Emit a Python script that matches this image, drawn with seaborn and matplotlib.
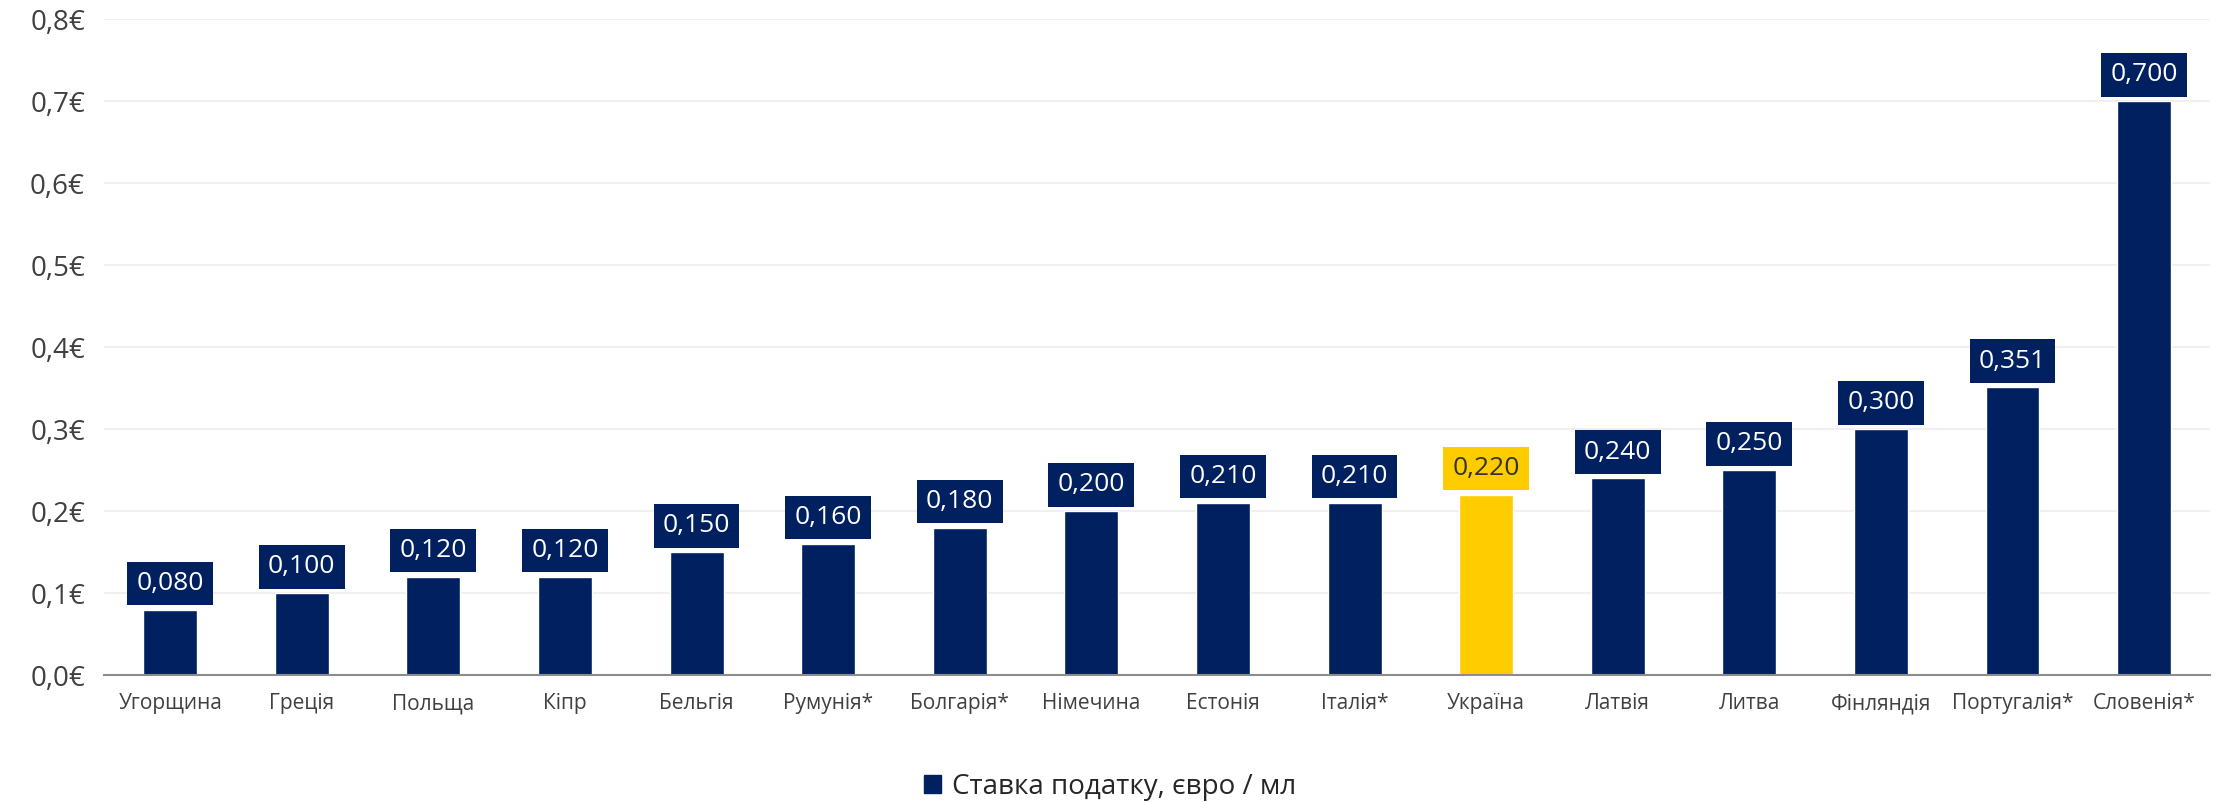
import numpy as np
import matplotlib.pyplot as plt
import pandas as pd
import seaborn as sns
from matplotlib.patches import Patch

# data
countries = ['Угорщина', 'Греція', 'Польща', 'Кіпр', 'Бельгія', 'Румунія*', 'Болгарія*',
             'Німечина', 'Естонія', 'Італія*', 'Україна', 'Латвія', 'Литва', 'Фінляндія',
             'Португалія*', 'Словенія*']
rates = [0.080, 0.100, 0.120, 0.120, 0.150, 0.160, 0.180, 0.200, 0.210, 0.210,
         0.220, 0.240, 0.250, 0.300, 0.351, 0.700]
y_ticks = [0.0, 0.1, 0.2, 0.3, 0.4, 0.5, 0.6, 0.7, 0.8]
legend_label = 'Ставка податку, євро / мл'
highlight = 'Україна'

navy = '#002060'
yellow = '#FFCC00'

sns.set_style('white')
plt.rcParams['font.family'] = ['Open Sans', 'DejaVu Sans']

df = pd.DataFrame({'country': countries, 'rate': rates})
palette = [yellow if c == highlight else navy for c in countries]

fig = plt.figure(figsize=(22.21, 8.02), dpi=100)
ax = fig.add_axes([0.047, 0.158, 0.948, 0.818])

sns.barplot(data=df, x='country', y='rate', hue='country', palette=palette,
            width=0.41, legend=False, saturation=1, ax=ax)

ax.set_ylim(0, 0.8)
ax.set_yticks(y_ticks)
ax.set_yticklabels([f'{v:.1f}€'.replace('.', ',') for v in y_ticks], fontsize=20, color='#404040')
ax.tick_params(axis='x', labelsize=15, colors='#404040', length=0, pad=13)
ax.tick_params(axis='y', length=0, pad=14)
ax.set_xlabel('')
ax.set_ylabel('')
ax.set_xlim(-0.5, len(countries) - 0.5)
ax.yaxis.grid(True, color='#eeeeee', linewidth=1.2)
ax.set_axisbelow(True)
for s in ['top', 'right', 'left']:
    ax.spines[s].set_visible(False)
ax.spines['bottom'].set_color('#8c8c8c')
ax.spines['bottom'].set_linewidth(1.5)

# value labels in boxes
for cont in ax.containers:
    labels = [f'{v:.3f}'.replace('.', ',') for v in cont.datavalues]
    texts = ax.bar_label(cont, labels=labels, padding=10, fontsize=19, color='white')
    for t, bar in zip(texts, cont):
        fc = bar.get_facecolor()
        is_yellow = np.allclose(fc[:3], plt.matplotlib.colors.to_rgb(yellow))
        t.set_color('#333333' if is_yellow else 'white')
        t.set_bbox(dict(boxstyle='square,pad=0.35', fc=yellow if is_yellow else navy, ec='none'))

fig.legend(handles=[Patch(color=navy, label=legend_label)], loc='lower center',
           bbox_to_anchor=(0.5, -0.012), borderaxespad=0, frameon=False, fontsize=20,
           handlelength=0.6, handleheight=0.6, handletextpad=0.4)

plt.savefig('out.png', dpi=100)
